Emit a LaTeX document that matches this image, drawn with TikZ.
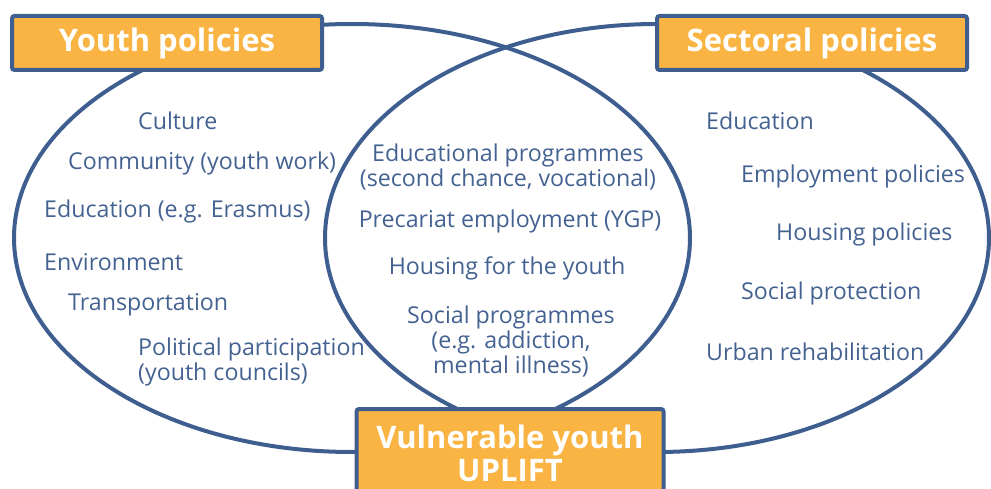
\documentclass[tikz,border=0pt]{standalone}
\usepackage{fontspec}
\setmainfont{Open Sans}
\usepackage{tikz}
\usetikzlibrary{shapes,positioning}
\definecolor{setblue}{RGB}{62,94,143}
\definecolor{txtblue}{RGB}{68,98,145}
\definecolor{boxorange}{RGB}{249,180,67}
\tikzset{set/.style={ellipse,draw=setblue,line width=4pt,inner sep=0pt},
title/.style={rectangle,rounded corners=2.5pt,fill=boxorange,draw=setblue,line width=4pt,
text=white,font=\fontsize{31}{33}\selectfont\bfseries,align=center,inner sep=0pt},
item/.style={anchor=base west,text=txtblue,inner sep=0pt,font=\fontsize{23.2}{25}\selectfont},
mid/.style={item,anchor=center,align=center}}

\begin{document}
\begin{tikzpicture}[x=1pt,y=-1pt]
  \useasboundingbox (0,0) rectangle (991,489);
  \node (lset) [set,minimum width=676pt,minimum height=428pt] at (352,238) {};
  \node (rset) [set,minimum width=664pt,minimum height=428pt] at (657,238) {};
  % left set
  \node (cul) [item] at (138,130) {Culture};
  \node (com) [item] at (68,170) {Community (youth work)};
  \node (eras) [item] at (44,218) {Education (e.g. Erasmus)};
  \node (env) [item] at (44,270) {Environment};
  \node (tra) [item] at (68,310) {Transportation};
  \node (pol) [item,anchor=west,align=left] at (138,362) {Political participation\\(youth councils)};
  % overlap
  \node (edp) [mid] at (508,167) {Educational programmes\\(second chance, vocational)};
  \node (pre) [item,anchor=base] at (510,228) {Precariat employment (YGP)};
  \node (hyo) [item,anchor=base] at (507,275) {Housing for the youth};
  \node (soc) [mid] at (511,342) {Social programmes\\(e.g. addiction,\\mental illness)};
  % right set
  \node (edu) [item] at (706,130) {Education};
  \node (emp) [item] at (741,183) {Employment policies};
  \node (hou) [item] at (776,241) {Housing policies};
  \node (spr) [item] at (741,299) {Social protection};
  \node (urb) [item] at (706,360) {Urban rehabilitation};
  % titles
  \node (yp) [title,minimum width=310pt,minimum height=54pt] at (167,43) {Youth policies};
  \node (sp) [title,minimum width=310pt,minimum height=54pt] at (812,43) {Sectoral policies};
  \node (vy) [title,minimum width=307pt,minimum height=88pt] at (510,453) {Vulnerable youth\\UPLIFT};
\end{tikzpicture}
\end{document}
